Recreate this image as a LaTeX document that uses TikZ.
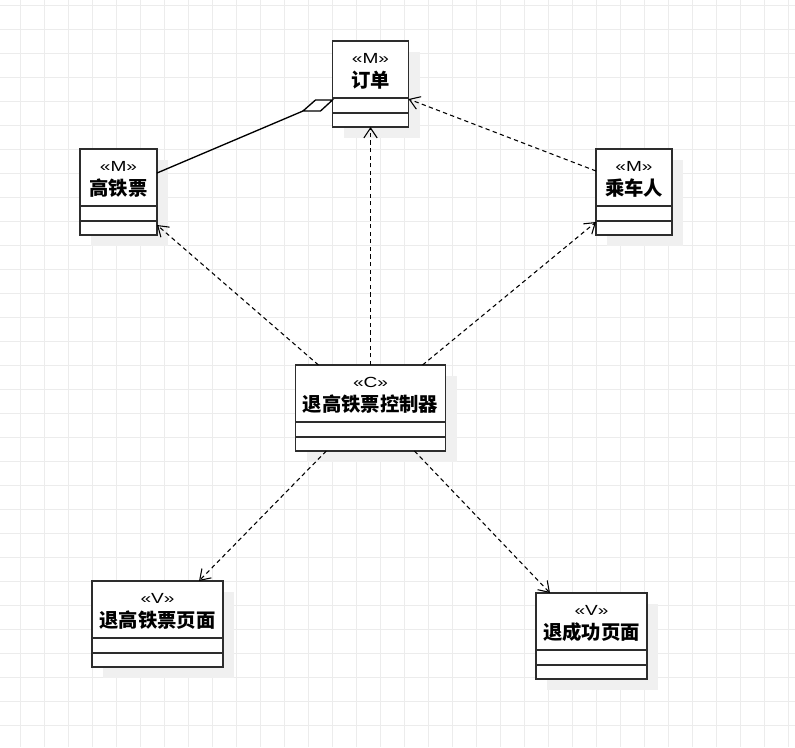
\documentclass[tikz,border=0pt]{standalone}
\usepackage{fontspec}
\usetikzlibrary{arrows.meta,calc}
\newfontfamily\cjkfont{Noto Sans CJK SC}
\newfontfamily\stereofont{Liberation Sans}[FakeStretch=1.3]
\definecolor{gridc}{RGB}{236,236,236}
\definecolor{shadowc}{RGB}{240,240,240}
\definecolor{edgec}{RGB}{45,45,45}

\tikzset{
  classbox/.style={draw=edgec, fill=white, line width=1.1pt, rectangle,
    inner sep=0pt, outer sep=0pt, anchor=north west},
  boxshadow/.style={fill=shadowc},
  compline/.style={draw=edgec, line width=1.1pt},
  stereo/.style={font=\stereofont\fontsize{11}{13}\selectfont, inner sep=0pt},
  cname/.style={font=\cjkfont\bfseries\fontsize{14.5}{17}\selectfont, inner sep=0pt},
  dep/.style={draw=black, line width=0.8pt, dash pattern=on 3.2pt off 2.5pt,
    -{Straight Barb[length=7.5pt,width=10pt,line width=0.8pt]}},
  aggr/.style={draw=black, line width=1pt},
  gridline/.style={draw=gridc, line width=0.75pt},
}

% UML class box: id, left, top, width, stereotype, title (pixel units)
\newcommand\umlclass[6]{%
  \fill[boxshadow] (#2+11,#3+11) rectangle (#2+#4+11,#3+97);
  \node[classbox, minimum width={#4*0.75pt}, minimum height=64.5pt] (#1) at (#2,#3) {};
  \draw[compline] ($(#1.north west)+(0,57)$) -- ($(#1.north east)+(0,57)$);
  \draw[compline] ($(#1.north west)+(0,72)$) -- ($(#1.north east)+(0,72)$);
  \node[stereo] (#1-st) at ($(#1.north)+(0,17)$) {«#5»};
  \node[cname] (#1-nm) at ($(#1.north)+(0,39)$) {#6};
}

\begin{document}
\begin{tikzpicture}[x=0.75pt, y=-0.75pt]
  \useasboundingbox (0,0) rectangle (795,747);
  \fill[white] (0,0) rectangle (795,747);

  % background grid
  \foreach \gx in {0,...,32} \draw[gridline] (20.5+24*\gx,0) -- (20.5+24*\gx,747);
  \foreach \gy in {0,...,30} \draw[gridline] (0,5+24*\gy) -- (795,5+24*\gy);

  % classes
  \umlclass{ord}{332.5}{41}{76}{M}{订单}
  \umlclass{gp}{80}{149}{77}{M}{高铁票}
  \umlclass{psg}{596}{149}{76}{M}{乘车人}
  \umlclass{ctl}{295.5}{365}{150}{C}{退高铁票控制器}
  \umlclass{rv}{92}{581}{131}{V}{退高铁票页面}
  \umlclass{sv}{536}{593}{111}{V}{退成功页面}

  % aggregation between ticket and order
  \coordinate (gp-port) at ($(gp.north east)+(0,24)$);
  \coordinate (dtip) at ($(ord.north west)+(0,59)$);
  \coordinate (dtail) at ($(dtip)+(-29.5,11)$);
  \draw[aggr] (gp-port) -- (dtail);
  \draw[aggr, fill=white, line join=miter] (dtip) -- ++(-17,0) -- (dtail) -- ++(17.5,0) -- cycle;

  % dependencies
  \draw[dep] ($(ctl.north west)!0.153!(ctl.north east)$) -- ($(gp.north east)+(0,76)$);
  \draw[dep] (ctl.north) -- (ord.south);
  \draw[dep] ($(ctl.north west)!0.847!(ctl.north east)$) -- ($(psg.north west)+(0,73)$);
  \draw[dep] ($(psg.north west)+(0,22)$) -- ($(ord.north east)+(0,58)$);
  \draw[dep] ($(ctl.south west)!0.205!(ctl.south east)$) -- ($(rv.north west)!0.817!(rv.north east)$);
  \draw[dep] ($(ctl.south west)!0.793!(ctl.south east)$) -- ($(sv.north west)!0.126!(sv.north east)$);
\end{tikzpicture}
\end{document}
